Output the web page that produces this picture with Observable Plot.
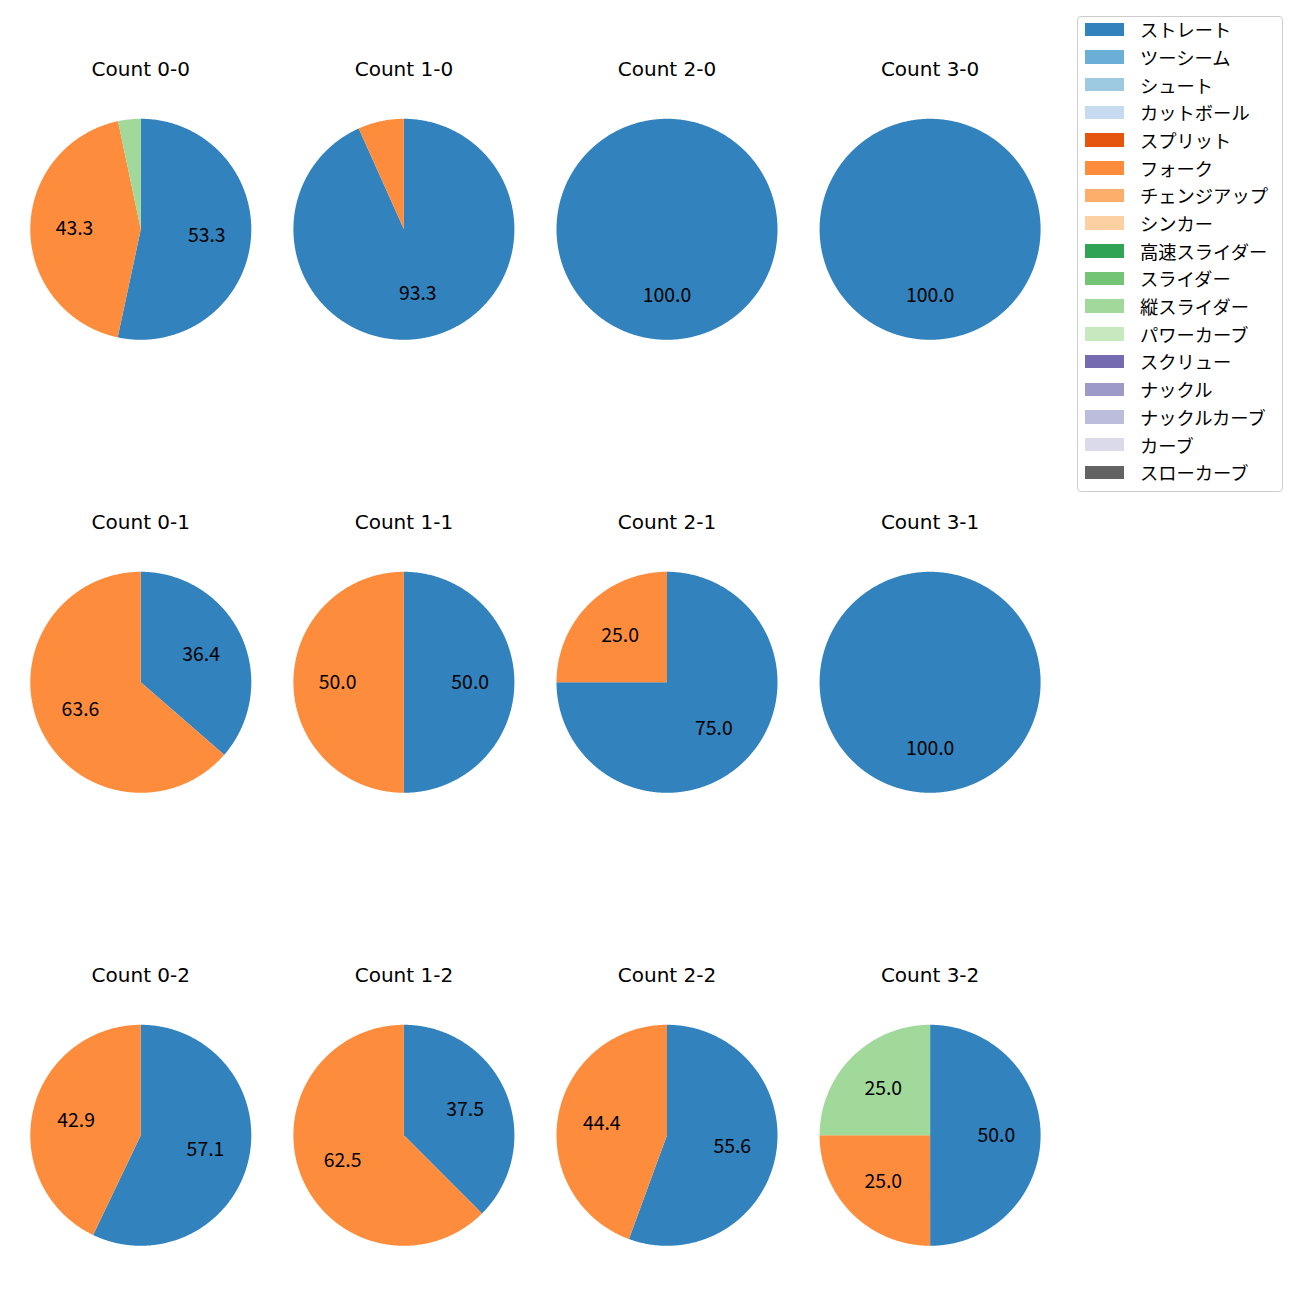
<!DOCTYPE html>
<html><head><meta charset="utf-8">
<script src="https://cdn.jsdelivr.net/npm/d3@7"></script>
<script src="https://cdn.jsdelivr.net/npm/@observablehq/plot@0.6"></script>
<style>
body{margin:0;background:#fff;font-family:"Noto Sans CJK JP",sans-serif;}
#wrap{position:relative;width:1300px;height:1300px;}
#chart{position:absolute;left:0;top:0;}
#legend{position:absolute;left:1077px;top:16px;width:206px;height:476px;box-sizing:border-box;border:1px solid #cccccc;border-radius:4px;background:rgba(255,255,255,0.8);}
#legend .inner{position:relative;top:-1.5px;}
.item{display:flex;align-items:center;height:27.7px;}
.sw{width:39px;height:13.5px;margin-left:7px;margin-right:16px;flex:none;}
.lab{font-size:18.3px;color:#000;white-space:nowrap;line-height:1;}
</style></head><body>
<div id="wrap"><div id="chart"></div><div id="legend"><div class="inner"></div></div></div>
<script>
// ---- data ----
const pitchTypes = ["ストレート","ツーシーム","シュート","カットボール","スプリット","フォーク","チェンジアップ","シンカー","高速スライダー","スライダー","縦スライダー","パワーカーブ","スクリュー","ナックル","ナックルカーブ","カーブ","スローカーブ"];
const pitchColors = ["#3182bd","#6baed6","#9ecae1","#c6dbef","#e6550d","#fd8d3c","#fdae6b","#fdd0a2","#31a354","#74c476","#a1d99b","#c7e9c0","#756bb1","#9e9ac8","#bcbddc","#dadaeb","#636363"];
const countLabels = ["0-0","1-0","2-0","3-0","0-1","1-1","2-1","3-1","0-2","1-2","2-2","3-2"];
const straightPct    = [53.3, 93.3, 100.0, 100.0, 36.4, 50.0, 75.0, 100.0, 57.1, 37.5, 55.6, 50.0];
const forkPct        = [43.3,  6.7,   0.0,   0.0, 63.6, 50.0, 25.0,   0.0, 42.9, 62.5, 44.4, 25.0];
const tateSliderPct  = [ 3.3,  0.0,   0.0,   0.0,  0.0,  0.0,  0.0,   0.0,  0.0,  0.0,  0.0, 25.0];
const series = [
  {type:"ストレート", values: straightPct},
  {type:"フォーク", values: forkPct},
  {type:"縦スライダー", values: tateSliderPct}
];

// ---- layout ----
const W = 1300, H = 1300;
const colStep = 263.1, rowStep = 453, x0 = 140.3, y0 = 228.8, R = 110.5;
const labelMin = 10;

const pts = [], labels = [], titles = [];
countLabels.forEach((c, i) => {
  const col = i % 4, row = Math.floor(i / 4);
  titles.push({col, row, text: `Count ${c}`});
  const vals = series.map(s => ({type: s.type, v: s.values[i]})).filter(d => d.v > 0);
  const total = d3.sum(vals, d => d.v);
  let acc = 0;
  vals.forEach((d, j) => {
    const a0 = acc / total * 2 * Math.PI; acc += d.v; const a1 = acc / total * 2 * Math.PI;
    const id = `${c}-${j}`;
    const full = a1 - a0 > 2 * Math.PI - 1e-6;
    if (!full) pts.push({id, type: d.type, x: col, y: row});
    const n = Math.max(2, Math.ceil((a1 - a0) / (Math.PI / 360)));
    for (let k = 0; k <= n; k++) {
      const a = a0 + (a1 - a0) * k / n;
      pts.push({id, type: d.type, x: col + R * Math.sin(a) / colStep, y: row - R * Math.cos(a) / rowStep});
    }
    if (d.v >= labelMin) {
      const am = (a0 + a1) / 2;
      labels.push({x: col + 0.6 * R * Math.sin(am) / colStep, y: row - 0.6 * R * Math.cos(am) / rowStep, text: d.v.toFixed(1)});
    }
  });
});

const chart = Plot.plot({
  width: W, height: H, margin: 0,
  x: {domain: [-x0 / colStep, (W - x0) / colStep], range: [0, W], axis: null},
  y: {domain: [-y0 / rowStep, (H - y0) / rowStep], range: [0, H], axis: null},
  color: {type: "ordinal", domain: pitchTypes, range: pitchColors},
  style: {fontFamily: '"Noto Sans CJK JP", sans-serif', background: "white", color: "black"},
  marks: [
    Plot.line(pts, {x: "x", y: "y", z: "id", fill: "type", stroke: "none", curve: "linear-closed"}),
    Plot.text(labels, {x: "x", y: "y", text: "text", fontSize: 19.4, fill: "black"}),
    Plot.text(titles, {x: "col", y: d => d.row - 160 / rowStep, text: "text", fontSize: 20, fontFamily: '"DejaVu Sans", sans-serif', fill: "black"})
  ]
});
document.getElementById("chart").appendChild(chart);

const legend = document.querySelector("#legend .inner");
pitchTypes.forEach((t, i) => {
  const item = document.createElement("div"); item.className = "item";
  const sw = document.createElement("div"); sw.className = "sw"; sw.style.background = pitchColors[i];
  const lab = document.createElement("span"); lab.className = "lab"; lab.textContent = t;
  item.appendChild(sw); item.appendChild(lab); legend.appendChild(item);
});
</script>
</body></html>
